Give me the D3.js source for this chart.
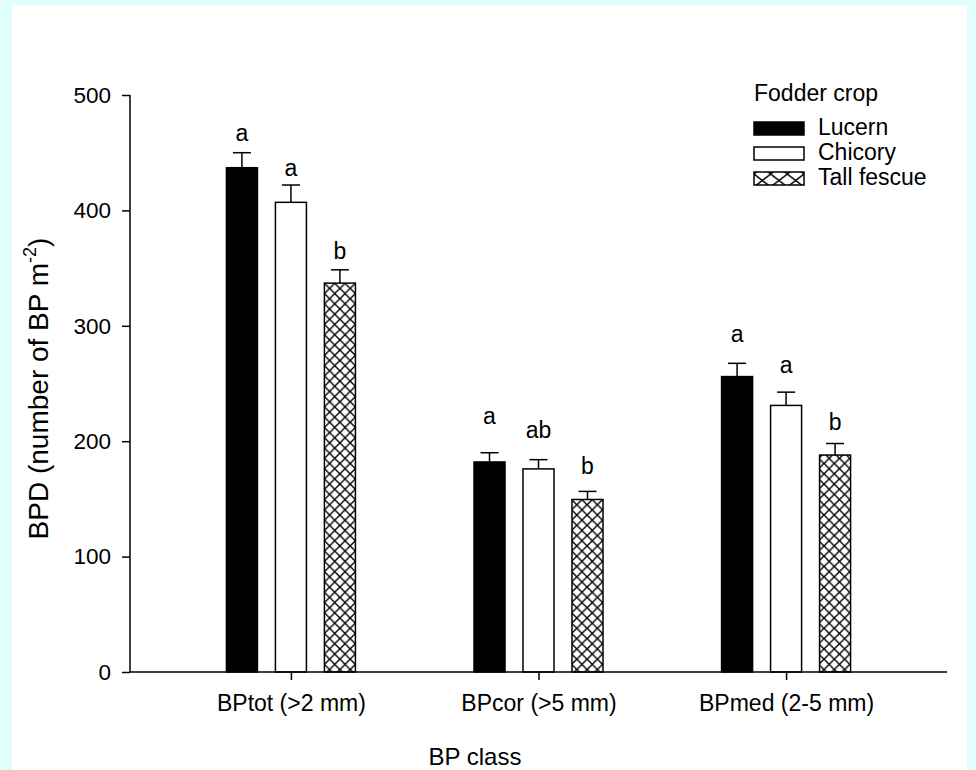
<!DOCTYPE html>
<html>
<head>
<meta charset="utf-8">
<script src="https://cdn.jsdelivr.net/npm/d3@7"></script>
<style>
  html, body { margin: 0; padding: 0; background: #e0fefc; }
  svg { display: block; font-family: Arial, "Liberation Sans", sans-serif; }
</style>
</head>
<body>
<svg id="chart" width="976" height="770"></svg>
<script>
// Burrow-pore density by class and fodder crop
const classes = ["BPtot (>2 mm)", "BPcor (>5 mm)", "BPmed (2-5 mm)"];
const crops = ["Lucern", "Chicory", "Tall fescue"];
const lucern = [437, 182, 256];
const chicory = [407, 176, 231];
const tallFescue = [337, 149.5, 188];
const lucernErr = [13, 8, 11.5];
const chicoryErr = [15, 8, 11.5];
const tallFescueErr = [11.5, 7, 10];
// significance letters and the value height where each sits
const letters = [["a", "a", "b"], ["a", "ab", "b"], ["a", "a", "b"]];
const letterY = [[460, 430, 358], [215, 203, 172], [286, 259, 210]];
const yTicks = [0, 100, 200, 300, 400, 500];

const FONT = "Arial, 'Liberation Sans', sans-serif";
const svg = d3.select("#chart");
svg.append("rect").attr("x", 12).attr("y", 5).attr("width", 955).attr("height", 765).attr("fill", "#ffffff");

const defs = svg.append("defs");
function crossPattern(id, w, h) {
  const p = defs.append("pattern").attr("id", id).attr("patternUnits", "userSpaceOnUse")
    .attr("width", w).attr("height", h);
  p.append("rect").attr("width", w).attr("height", h).attr("fill", "#fff");
  p.append("path").attr("d", `M0,0L${w},${h}M${w},0L0,${h}`)
    .attr("stroke", "#000").attr("stroke-width", 1.4).attr("fill", "none");
  return p;
}
crossPattern("xhatch", 10.3, 10.3);
const legPat = crossPattern("xhatchLeg", 50 / 3, 13);
legPat.attr("x", 754).attr("y", 122);

const x0 = 130, x1 = 947, yBottom = 672, yTop = 95;
const x = d3.scalePoint().domain(classes).range([x0, x1]).padding(0.65);
const xs = d3.scaleBand().domain(crops).range([-64.5, 64.5]).paddingInner(0.367);
const y = d3.scaleLinear().domain([0, 500]).range([yBottom, yTop]);

const series = [
  { name: "Lucern", vals: lucern, err: lucernErr, fill: "#000" },
  { name: "Chicory", vals: chicory, err: chicoryErr, fill: "#fff" },
  { name: "Tall fescue", vals: tallFescue, err: tallFescueErr, fill: "url(#xhatch)" }
];

const g = svg.append("g");
series.forEach((s, si) => {
  classes.forEach((c, ci) => {
    const bx = x(c) + xs(s.name);
    const bw = xs.bandwidth();
    const cx = bx + bw / 2;
    const top = y(s.vals[ci]);
    const cap = y(s.vals[ci] + s.err[ci]);
    g.append("line").attr("x1", cx).attr("x2", cx).attr("y1", top).attr("y2", cap)
      .attr("stroke", "#000").attr("stroke-width", 1.5);
    g.append("line").attr("x1", cx - 9).attr("x2", cx + 9).attr("y1", cap).attr("y2", cap)
      .attr("stroke", "#000").attr("stroke-width", 1.5);
    g.append("rect").attr("x", bx).attr("y", top).attr("width", bw).attr("height", y(0) - top)
      .attr("fill", s.fill).attr("stroke", "#000").attr("stroke-width", 1.5);
    g.append("text").attr("x", cx).attr("y", y(letterY[ci][si])).attr("text-anchor", "middle")
      .attr("font-size", 23).text(letters[ci][si]);
  });
});

// y axis
const yAxis = svg.append("g").attr("transform", `translate(${x0},0)`)
  .call(d3.axisLeft(y).tickValues(yTicks).tickSize(8).tickPadding(11).tickFormat(d3.format("d")));
yAxis.select(".domain").attr("d", `M0,${yTop}V${yBottom}`).attr("stroke-width", 1.5);
yAxis.selectAll(".tick line").attr("stroke-width", 1.5);
yAxis.selectAll("text").attr("font-size", 22.5).attr("font-family", FONT).attr("fill", "#000");

// x axis
const xAxis = svg.append("g").attr("transform", `translate(0,${yBottom})`)
  .call(d3.axisBottom(x).tickSize(8).tickPadding(15));
xAxis.select(".domain").attr("d", `M${x0},0H${x1}`).attr("stroke-width", 1.5);
xAxis.selectAll(".tick line").attr("stroke-width", 1.5);
xAxis.selectAll("text").attr("font-size", 23).attr("font-family", FONT).attr("fill", "#000");

// axis titles
svg.append("text").attr("x", 475).attr("y", 765).attr("text-anchor", "middle")
  .attr("font-size", 24).text("BP class");
const yt = svg.append("text").attr("transform", `translate(48,${(yTop + yBottom) / 2 + 5}) rotate(-90)`)
  .attr("text-anchor", "middle").attr("font-size", 28);
yt.append("tspan").text("BPD (number of BP m");
yt.append("tspan").attr("font-size", 18).attr("dy", -12).text("-2");
yt.append("tspan").attr("dy", 12).text(")");

// legend
const leg = svg.append("g");
leg.append("text").attr("x", 754).attr("y", 101).attr("font-size", 23).text("Fodder crop");
series.forEach((s, i) => {
  const ly = 122 + i * 25;
  leg.append("rect").attr("x", 754).attr("y", ly).attr("width", 50).attr("height", 13)
    .attr("fill", i === 2 ? "url(#xhatchLeg)" : s.fill).attr("stroke", "#000").attr("stroke-width", 1.5);
  leg.append("text").attr("x", 818).attr("y", ly + 13).attr("font-size", 23).text(s.name);
});
</script>
</body>
</html>
